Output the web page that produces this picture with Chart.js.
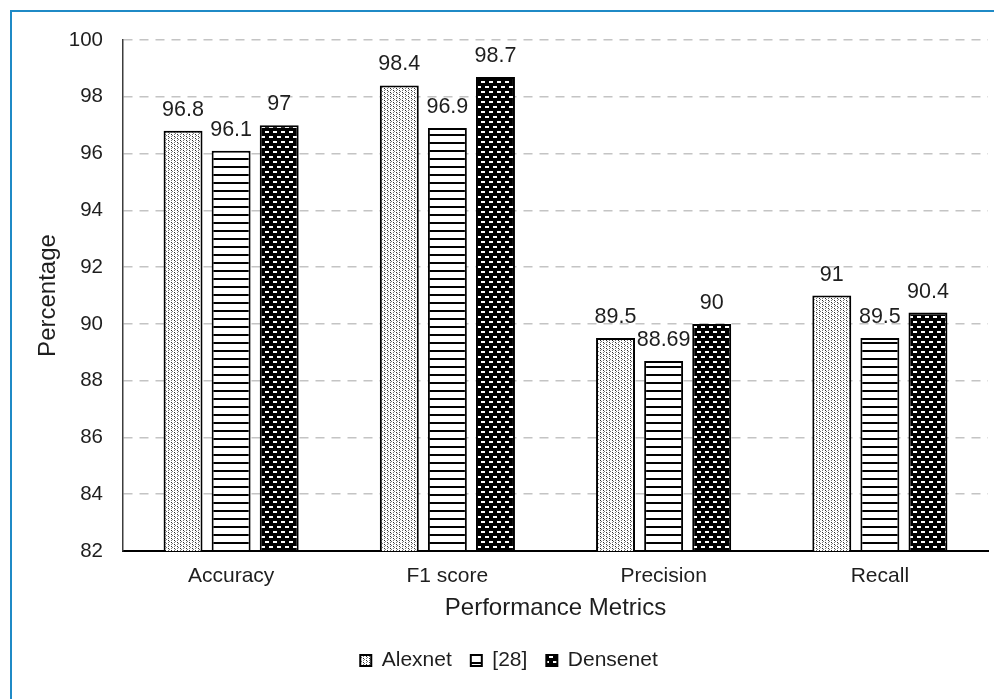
<!DOCTYPE html>
<html>
<head>
<meta charset="utf-8">
<script src="https://cdn.jsdelivr.net/npm/chart.js@4.4.1/dist/chart.umd.min.js"></script>
<style>
  html, body { margin: 0; padding: 0; background: #fff; overflow: hidden; }
  #wrap { position: relative; width: 994px; height: 699px; }
  #frame { position: absolute; left: 10px; top: 10px; width: 1100px; height: 800px;
           border: 2px solid #1f8ac6; box-sizing: border-box; pointer-events: none; }
  canvas { position: absolute; left: 0; top: 0; }
</style>
</head>
<body>
<div id="wrap">
  <canvas id="chart" width="994" height="699"></canvas>
  <div id="frame"></div>
</div>
<script>
// Performance metrics per model (percent)
const metrics = ['Accuracy', 'F1 score', 'Precision', 'Recall'];
const alexnet = [96.8, 98.4, 89.5, 91];
const ref28 = [96.1, 96.9, 88.69, 89.5];
const densenet = [97, 98.7, 90, 90.4];
const seriesNames = ['Alexnet', '[28]', 'Densenet'];
const yTicks = [82, 84, 86, 88, 90, 92, 94, 96, 98, 100];

const FONT = "'Liberation Sans', Arial, sans-serif";
const INK = '#1e1e1e';

// Fill patterns for the three series
function makePattern(w, h, paint) {
  const c = document.createElement('canvas');
  c.width = w; c.height = h;
  const g = c.getContext('2d');
  paint(g);
  return document.getElementById('chart').getContext('2d').createPattern(c, 'repeat');
}

// light stipple
const dotFill = makePattern(6, 4, g => {
  g.fillStyle = '#ffffff'; g.fillRect(0, 0, 6, 4);
  g.fillStyle = '#2a2a2a';
  g.fillRect(0, 0, 1, 1);
  g.fillRect(3, 2, 1, 1);
  g.fillStyle = '#7a7a7a';
  g.fillRect(1, 1, 1, 1);
  g.fillRect(4, 3, 1, 1);
  g.fillRect(0, 2, 1, 1);
  g.fillRect(3, 0, 1, 1);
});

// horizontal stripes
const stripeFill = makePattern(8, 8, g => {
  g.fillStyle = '#ffffff'; g.fillRect(0, 0, 8, 8);
  g.fillStyle = '#000000'; g.fillRect(0, 6, 8, 2);
});

// dark fill with staggered light dashes
const darkFill = makePattern(8, 10, g => {
  g.fillStyle = '#000000'; g.fillRect(0, 0, 8, 10);
  g.fillStyle = '#ffffff';
  g.fillRect(1, 1, 4, 2);
  g.fillRect(5, 6, 3, 2);
  g.fillRect(0, 6, 1, 2);
});

// values printed above each bar
const valueLabels = {
  id: 'valueLabels',
  afterDatasetsDraw(chart) {
    const ctx = chart.ctx;
    ctx.save();
    ctx.font = '21.5px ' + FONT;
    ctx.fillStyle = INK;
    ctx.textAlign = 'center';
    ctx.textBaseline = 'alphabetic';
    chart.data.datasets.forEach((ds, i) => {
      chart.getDatasetMeta(i).data.forEach((bar, j) => {
        ctx.fillText(String(ds.data[j]), bar.x, bar.y - 15);
      });
    });
    ctx.restore();
  }
};

new Chart(document.getElementById('chart'), {
  type: 'bar',
  data: {
    labels: metrics,
    datasets: [
      { label: seriesNames[0], data: alexnet, backgroundColor: dotFill },
      { label: seriesNames[1], data: ref28, backgroundColor: stripeFill },
      { label: seriesNames[2], data: densenet, backgroundColor: darkFill }
    ].map(d => Object.assign(d, {
      borderColor: '#000000', borderWidth: 2, borderSkipped: false,
      categoryPercentage: 0.667, barPercentage: 0.81
    }))
  },
  options: {
    responsive: false,
    animation: false,
    devicePixelRatio: 1,
    layout: { padding: { left: 30, right: 6, top: 40, bottom: 18 } },
    plugins: {
      tooltip: { enabled: false },
      legend: {
        position: 'bottom',
        labels: {
          font: { family: FONT, size: 21 },
          color: INK,
          boxWidth: 11, boxHeight: 11,
          padding: 19
        }
      }
    },
    scales: {
      x: {
        grid: { display: false, drawTicks: false },
        border: { display: true, color: '#000000', width: 2 },
        ticks: { font: { family: FONT, size: 21 }, color: INK, padding: 13 },
        title: { display: true, text: 'Performance Metrics',
                 font: { family: FONT, size: 24 }, color: INK, padding: { top: 4, bottom: 8 } },
        afterFit(s) { s.height = 80; }
      },
      y: {
        min: 82, max: 100,
        afterBuildTicks(s) { s.ticks = yTicks.map(v => ({ value: v })); },
        grid: { color: '#c4c4c4', lineWidth: 1.5, drawTicks: false },
        border: { display: true, color: '#3c3c3c', width: 1.5, dash: [9, 7] },
        ticks: { font: { family: FONT, size: 20.5 }, color: INK, padding: 20 },
        title: { display: true, text: 'Percentage',
                 font: { family: FONT, size: 24 }, color: INK, padding: { top: 4, bottom: 0 } },
        afterFit(s) { s.width = 93; }
      }
    }
  },
  plugins: [valueLabels]
});
</script>
</body>
</html>
